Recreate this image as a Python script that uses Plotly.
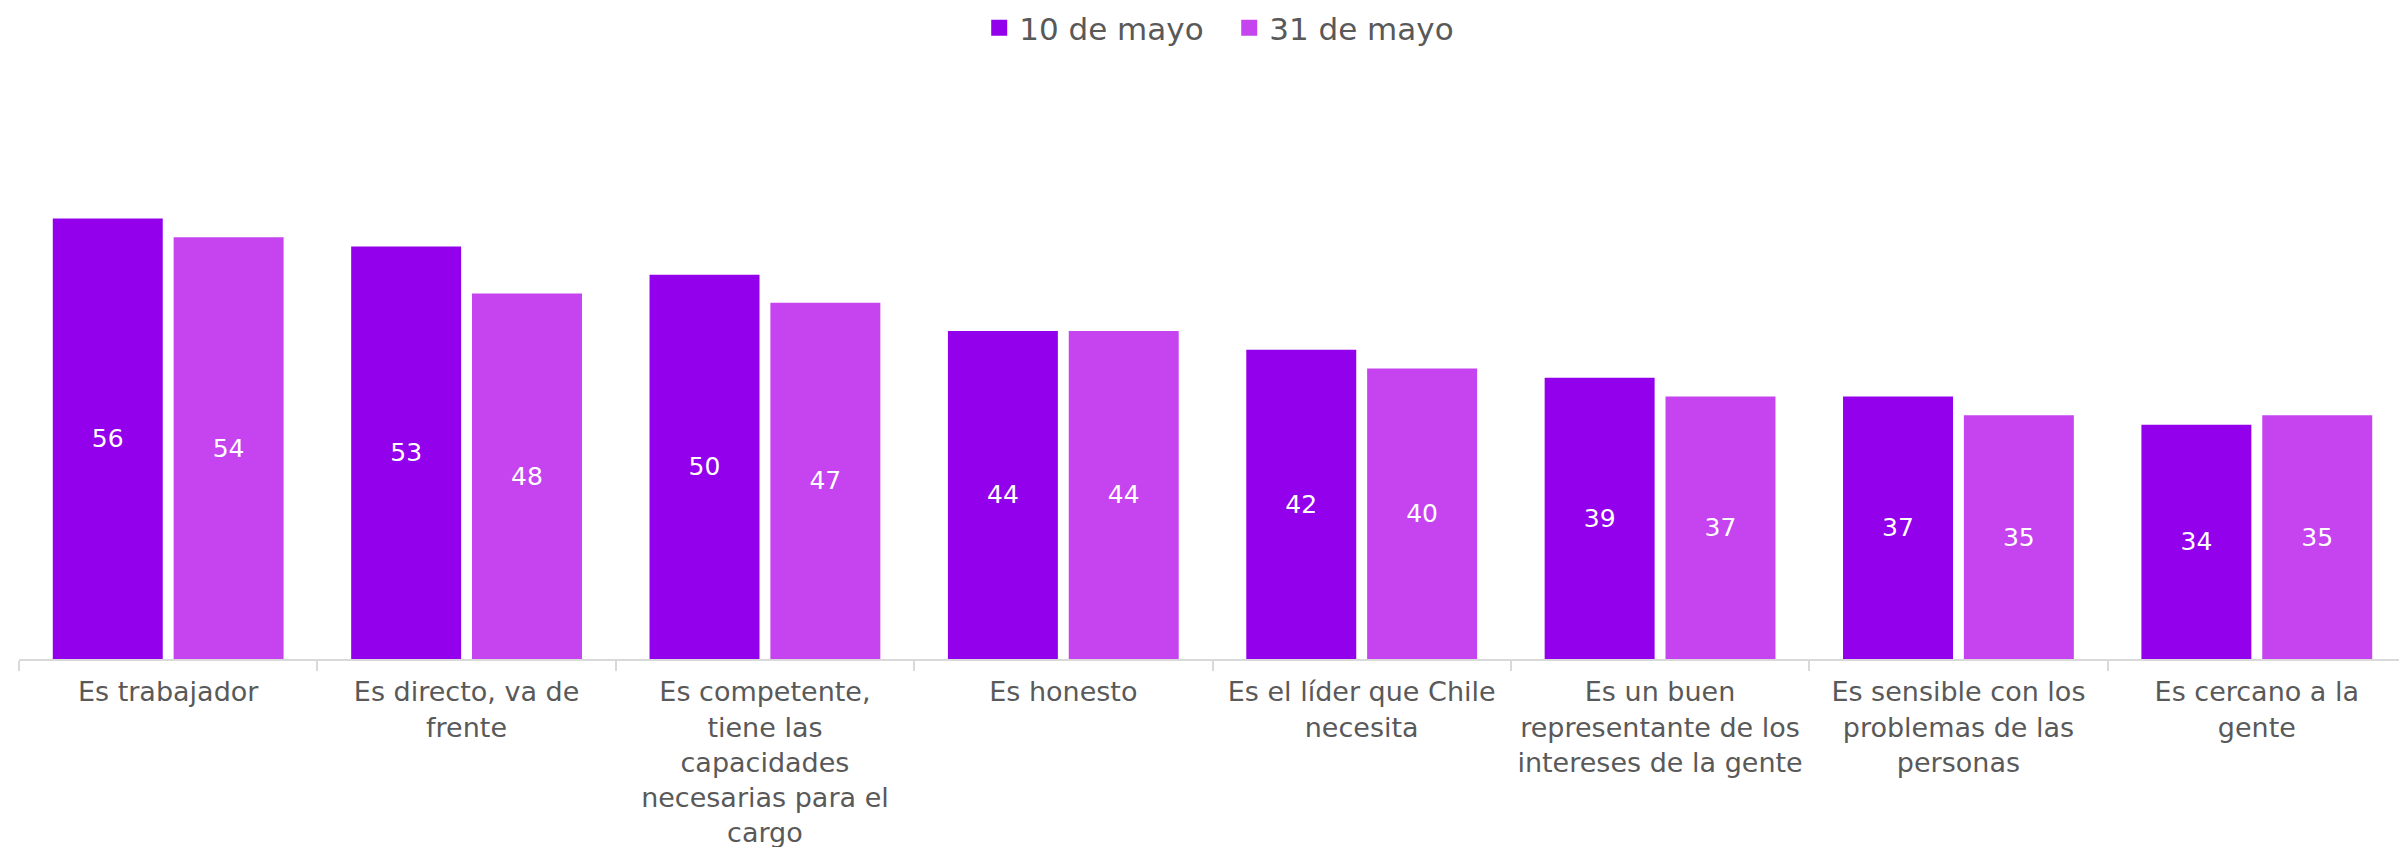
import plotly.graph_objects as go

categories = [
    "Es trabajador",
    "Es directo, va de<br>frente",
    "Es competente,<br>tiene las<br>capacidades<br>necesarias para el<br>cargo",
    "Es honesto",
    "Es el líder que Chile<br>necesita",
    "Es un buen<br>representante de los<br>intereses de la gente",
    "Es sensible con los<br>problemas de las<br>personas",
    "Es cercano a la<br>gente",
]
series_names = ["10 de mayo", "31 de mayo"]
may10 = [56, 53, 50, 44, 42, 39, 37, 34]
may31 = [54, 48, 47, 44, 40, 37, 35, 35]
colors = ["#9300EB", "#C643F0"]
AXIS_MIN = 9
AXIS_MAX = 60

FONT = "DejaVu Sans"
TXT = "#595959"

fig = go.Figure()
for name, vals, col in zip(series_names, [may10, may31], colors):
    fig.add_trace(go.Bar(
        x=categories, y=[v - AXIS_MIN for v in vals], base=AXIS_MIN, name=name,
        marker=dict(color=col, line=dict(width=0)),
        text=[str(v) for v in vals],
        textposition="inside", insidetextanchor="middle",
        textfont=dict(color="white", size=25, family=FONT),
        showlegend=False,
    ))
# legend entries with larger square swatches
for name, col in zip(series_names, colors):
    fig.add_trace(go.Scatter(
        x=[None], y=[None], mode="markers", name=name,
        marker=dict(symbol="square", size=18, color=col),
        showlegend=True, hoverinfo="skip",
    ))

fig.update_layout(
    width=2407, height=847,
    paper_bgcolor="white", plot_bgcolor="white",
    barmode="group", bargap=0.19, bargroupgap=0.09,
    margin=dict(l=11, r=9, t=173, b=196, autoexpand=False),
    font=dict(family=FONT, color=TXT),
    showlegend=True,
    legend=dict(orientation="h", x=0.507, xanchor="center", y=1 - 20 / 847, yref="container",
                yanchor="middle", font=dict(size=31, color=TXT),
                itemsizing="trace", itemwidth=30, traceorder="normal",
                entrywidth=205, entrywidthmode="pixels"),
    uniformtext=dict(mode="show", minsize=10),
)
fig.update_xaxes(
    showline=True, linecolor="#D9D9D9", linewidth=2,
    ticks="outside", tickson="boundaries", ticklen=10, tickcolor="#D9D9D9", tickwidth=2,
    tickfont=dict(size=27, color=TXT, family=FONT),
    ticklabelstandoff=8, automargin=False,
    showgrid=False,
)
fig.update_yaxes(range=[AXIS_MIN, AXIS_MAX], visible=False, showgrid=False, zeroline=False)

fig.write_html("out.html")
